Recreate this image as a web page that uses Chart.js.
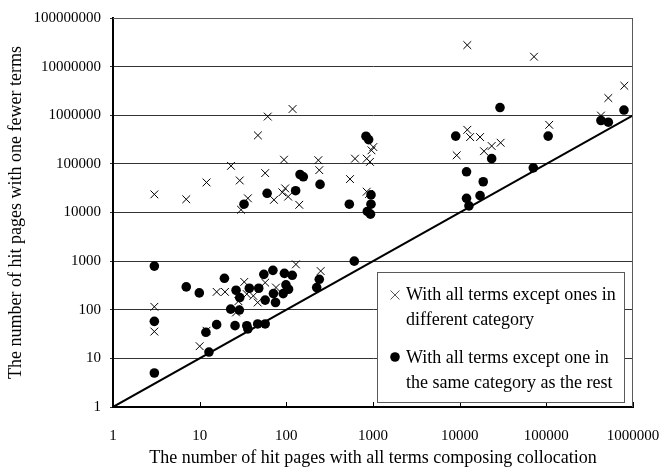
<!DOCTYPE html>
<html>
<head>
<meta charset="utf-8">
<script src="https://cdn.jsdelivr.net/npm/chart.js@4.4.0/dist/chart.umd.min.js"></script>
<style>
  html, body { margin: 0; padding: 0; background: #fff; }
  #wrap { width: 660px; height: 470px; }
</style>
</head>
<body>
<div id="wrap"><canvas id="chartHits"></canvas></div>
<script>
'use strict';

//fonts / colors

var serif = "'Liberation Serif', 'Times New Roman', serif";
var black = "rgb(000,000,000)";
var gridGrey = "rgb(050,050,050)";
var frameGrey = "rgb(090,090,090)";

//hit counts: x = pages with all terms, y = pages with one term dropped

var diffCatX = [3, 7, 12, 23, 29, 36, 30, 47, 61, 118, 57, 94, 72, 97, 105, 90, 141,
    234, 240, 543, 620, 846, 923, 1009, 960, 846, 900, 129, 249,
    3, 3, 10, 12, 15.7, 19.6, 32.7, 26.3, 26.3, 35, 41.6, 46.7, 57, 76, 28,
    12250, 72100, 794000, 519000, 427000, 108000, 12250, 13200, 17200, 9240, 19100, 23400, 29700];
var diffCatY = [23600, 18700, 41500, 91000, 45600, 19600, 11400, 385000, 940000, 1345000, 64600, 122000, 18200, 31300, 21200, 26000, 14400,
    119000, 74300, 48700, 128000, 128000, 110000, 222000, 190000, 26800, 24000, 857, 625,
    115, 35.6, 17.8, 37, 233, 233, 373, 103, 88, 209, 193, 141, 361, 286, 150,
    27700000, 16000000, 4040000, 2260000, 985000, 635000, 502000, 356000, 356000, 150000, 182000, 233000, 272000];

var sameCatX = [3, 3, 3, 7, 9.9, 19.3, 11.8, 15.7, 12.8, 25.6, 35, 36, 46.7, 57, 22.8, 28.7, 26.3, 29, 37.4, 48,
    55, 70, 95, 117, 57, 71, 75, 99, 106, 92, 240, 224, 608,
    32.5, 60, 128, 144, 157, 245, 533, 948, 948, 860, 935, 830, 890,
    29200, 9000, 105000, 23400, 12000, 18700, 12000, 17200, 12800, 70700, 427000, 519000, 787000];
var sameCatY = [791, 57.8, 5, 295, 222, 443, 34.4, 49.4, 13.5, 47.1, 47, 40.3, 51, 51, 103, 98.5, 252, 178, 277, 277,
    535, 646, 561, 511, 158, 215, 141, 324, 264, 215, 423, 286, 1000,
    14800, 24800, 28100, 60500, 54300, 37800, 14800, 23000, 14800, 10500, 9240, 370000, 316000,
    1440000, 373000, 373000, 128000, 68700, 42900, 19600, 22200, 13700, 82800, 780000, 720000, 1280000];

//y = x reference line
var diagonalX = [1, 1000000];
var diagonalY = [1, 1000000];

//axis ticks (decades)
var xTicks = [1, 10, 100, 1000, 10000, 100000, 1000000];
var yTicks = [1, 10, 100, 1000, 10000, 100000, 1000000, 10000000, 100000000];

var diffCatLines = ['With all terms except ones in', 'different category'];
var sameCatLines = ['With all terms except one in', 'the same category as the rest'];

function toPoints(xs, ys) {
    return xs.map((x, i) => ({ x: x, y: ys[i] }));
}

//frame, inward x ticks and boxed legend

const framePlugin = {
    id: 'framePlugin',
    afterDatasetsDraw(chart) {
        var ctx = chart.ctx;
        var a = chart.chartArea;
        ctx.save();

        //top + right border
        ctx.strokeStyle = frameGrey;
        ctx.lineWidth = 1;
        ctx.beginPath();
        ctx.moveTo(a.left, a.top + 0.5);
        ctx.lineTo(a.right - 0.5, a.top + 0.5);
        ctx.lineTo(a.right - 0.5, a.bottom);
        ctx.stroke();

        //x ticks point up into the plot
        ctx.strokeStyle = black;
        ctx.beginPath();
        xTicks.forEach(v => {
            var px = Math.round(chart.scales.x.getPixelForValue(v)) + 0.5;
            ctx.moveTo(px, a.bottom);
            ctx.lineTo(px, a.bottom - 5);
        });
        ctx.stroke();

        //legend box
        var bx = a.right - 256, by = a.top + 254, bw = 247, bh = 130;
        ctx.fillStyle = "#fff";
        ctx.fillRect(bx, by, bw, bh);
        ctx.strokeStyle = frameGrey;
        ctx.strokeRect(bx + 0.5, by + 0.5, bw, bh);

        ctx.fillStyle = black;
        ctx.font = "18px " + serif;
        ctx.textBaseline = 'middle';
        ctx.textAlign = 'left';
        var tx = bx + 29, mx = bx + 18;
        ctx.fillText(diffCatLines[0], tx, by + 23);
        ctx.fillText(diffCatLines[1], tx, by + 48);
        ctx.fillText(sameCatLines[0], tx, by + 86);
        ctx.fillText(sameCatLines[1], tx, by + 111);

        //legend markers
        ctx.lineWidth = 1;
        ctx.beginPath();
        ctx.moveTo(mx - 4.5, by + 18.5); ctx.lineTo(mx + 4.5, by + 27.5);
        ctx.moveTo(mx + 4.5, by + 18.5); ctx.lineTo(mx - 4.5, by + 27.5);
        ctx.stroke();
        ctx.beginPath();
        ctx.arc(mx, by + 85, 4.8, 0, Math.PI * 2);
        ctx.fill();

        ctx.restore();
    }
};

const chartData = {
    datasets: [{
        label: diffCatLines.join(' '),
        data: toPoints(diffCatX, diffCatY),
        pointStyle: 'crossRot',
        pointRadius: 5.5,
        borderColor: black,
        borderWidth: 1,
        showLine: false
    },
    {
        label: sameCatLines.join(' '),
        data: toPoints(sameCatX, sameCatY),
        pointStyle: 'circle',
        pointRadius: 4.8,
        backgroundColor: black,
        borderColor: black,
        borderWidth: 0,
        showLine: false
    },
    {
        label: 'y = x',
        type: 'line',
        data: toPoints(diagonalX, diagonalY),
        borderColor: black,
        borderWidth: 2,
        pointRadius: 0,
        showLine: true
    }]
};

const chartConfig = {
    type: 'scatter',
    data: chartData,
    plugins: [framePlugin],
    options: {
        responsive: true,
        maintainAspectRatio: false,
        animation: false,
        layout: { padding: { left: 0, right: 27, top: 15, bottom: 0 } },
        plugins: {
            legend: { display: false },
            tooltip: { enabled: false }
        },
        scales: {
            x: {
                type: 'logarithmic',
                min: 1,
                max: 1000000,
                afterBuildTicks: s => { s.ticks = xTicks.map(v => ({ value: v })); },
                afterFit: s => { s.height = 63; },
                ticks: {
                    callback: v => String(v),
                    color: black,
                    font: { family: serif, size: 15 },
                    padding: 0,
                    maxRotation: 0,
                    autoSkip: false
                },
                //spacer only: the real tick marks are drawn inward by framePlugin
                grid: { drawOnChartArea: false, tickLength: 20, tickColor: 'rgba(0,0,0,0)' },
                border: { color: black, width: 2 },
                title: {
                    display: true,
                    text: 'The number of hit pages with all terms composing collocation',
                    color: black,
                    font: { family: serif, size: 18 },
                    padding: { top: 0, bottom: 1 }
                }
            },
            y: {
                type: 'logarithmic',
                min: 1,
                max: 100000000,
                afterBuildTicks: s => { s.ticks = yTicks.map(v => ({ value: v })); },
                afterFit: s => { s.width = 113; },
                ticks: {
                    callback: v => String(v),
                    color: black,
                    font: { family: serif, size: 15 },
                    padding: 9,
                    autoSkip: false
                },
                grid: { color: gridGrey, lineWidth: 1, tickLength: 3 },
                border: { color: black, width: 2 },
                title: {
                    display: true,
                    text: 'The number of hit pages with one fewer terms',
                    color: black,
                    font: { family: serif, size: 18 },
                    padding: { top: 5, bottom: 0 }
                }
            }
        }
    }
};

window.onload = function () {
    new Chart(document.getElementById('chartHits'), chartConfig);
};
</script>
</body>
</html>
